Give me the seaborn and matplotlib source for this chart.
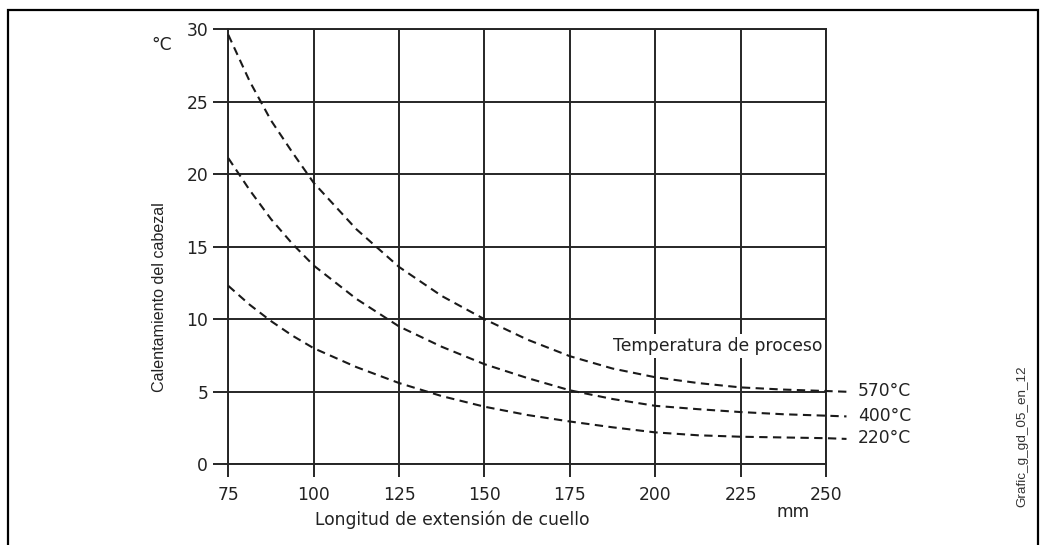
import matplotlib
matplotlib.use("Agg")
import matplotlib.pyplot as plt
import matplotlib.patches as mpatches
import seaborn as sns
import pandas as pd

# ---- data ----
length_mm = [75, 81.25, 87.5, 93.75, 100, 112.5, 125, 137.5, 150, 162.5, 175, 187.5,
             200, 212.5, 225, 237.5, 250, 256]
heat_570 = [29.6, 26.4, 23.7, 21.5, 19.4, 16.2, 13.6, 11.6, 10.0, 8.6, 7.45, 6.6,
            6.0, 5.6, 5.3, 5.15, 5.05, 5.0]
heat_400 = [21.1, 18.9, 16.9, 15.2, 13.7, 11.4, 9.5, 8.1, 6.9, 5.95, 5.1, 4.5,
            4.03, 3.8, 3.6, 3.45, 3.35, 3.3]
heat_220 = [12.3, 11.0, 9.87, 8.87, 8.0, 6.7, 5.6, 4.7, 3.97, 3.4, 2.95, 2.55,
            2.2, 2.0, 1.9, 1.85, 1.8, 1.75]
series_labels = ["570°C", "400°C", "220°C"]
x_ticks = [75, 100, 125, 150, 175, 200, 225, 250]
y_ticks = [0, 5, 10, 15, 20, 25, 30]

sns.set_style("white")
plt.rcParams["font.family"] = ["DejaVu Sans"]

ink = "#262626"
txt = "#222222"
fs = 12.3
fig = plt.figure(figsize=(10.5, 5.45), dpi=100)
ax = fig.add_axes([228.3 / 1050, 1 - 464.3 / 545, (826 - 228.3) / 1050, (464.3 - 29) / 545])

for vals in (heat_570, heat_400, heat_220):
    df = pd.DataFrame({"x": length_mm, "y": vals})
    sns.lineplot(data=df, x="x", y="y", ax=ax, color="#1a1a1a", linewidth=1.5,
                 estimator=None, sort=True)
for ln in ax.lines:
    ln.set_dashes((4.0, 2.6))
    ln.set_clip_on(False)
    ln.set_zorder(3)

ax.set_xlim(75, 250)
ax.set_ylim(0, 30)
ax.set_xticks(x_ticks)
ax.set_yticks(y_ticks)
ax.grid(True, color=ink, linewidth=1.4)
ax.set_axisbelow(True)
for sp in ax.spines.values():
    sp.set_visible(True)
    sp.set_color(ink)
    sp.set_linewidth(1.4)
ax.tick_params(axis="y", direction="out", length=11, width=1.4, color=ink, pad=3.5,
               labelsize=fs, labelcolor=txt, left=True)
ax.tick_params(axis="x", direction="out", length=9.5, width=1.4, color=ink, pad=6,
               labelsize=fs, labelcolor=txt, bottom=True)
ax.set_xlabel("")
ax.set_ylabel("")

# end labels
for vals, lab in zip((heat_570, heat_400, heat_220), series_labels):
    ax.text(259.4, vals[-2], lab, fontsize=fs, color=txt, va="center", ha="left",
            clip_on=False)

ax.text(249, 8.15, "Temperatura de proceso", fontsize=fs, color=txt,
        ha="right", va="center", zorder=4,
        bbox=dict(facecolor="white", edgecolor="none", pad=2))

fig.text(0.152, 0.455, "Calentamiento del cabezal", rotation=90, fontsize=11.6,
         family=["Liberation Sans", "DejaVu Sans"], color=txt, ha="center", va="center")
fig.text(0.154, 0.917, "°C", fontsize=fs, color=txt, ha="center", va="center")
fig.text(0.3, 0.046, "Longitud de extensión de cuello", fontsize=fs,
         color=txt, ha="left", va="center")
fig.text(0.755, 0.06, "mm", fontsize=fs, color=txt, ha="center", va="center")
fig.text(0.974, 0.2, "Grafic_g_gd_05_en_12", rotation=90, fontsize=9.7,
         family=["Liberation Sans", "DejaVu Sans"], color="#333333",
         ha="center", va="center")

frame = mpatches.Rectangle((8 / 1050, -0.1), (1038 - 8) / 1050, 1 - 10 / 545 + 0.1,
                           transform=fig.transFigure, fill=False, edgecolor="black",
                           linewidth=1.6, clip_on=False)
fig.patches.append(frame)

fig.savefig("out.png", dpi=100, facecolor="white")
